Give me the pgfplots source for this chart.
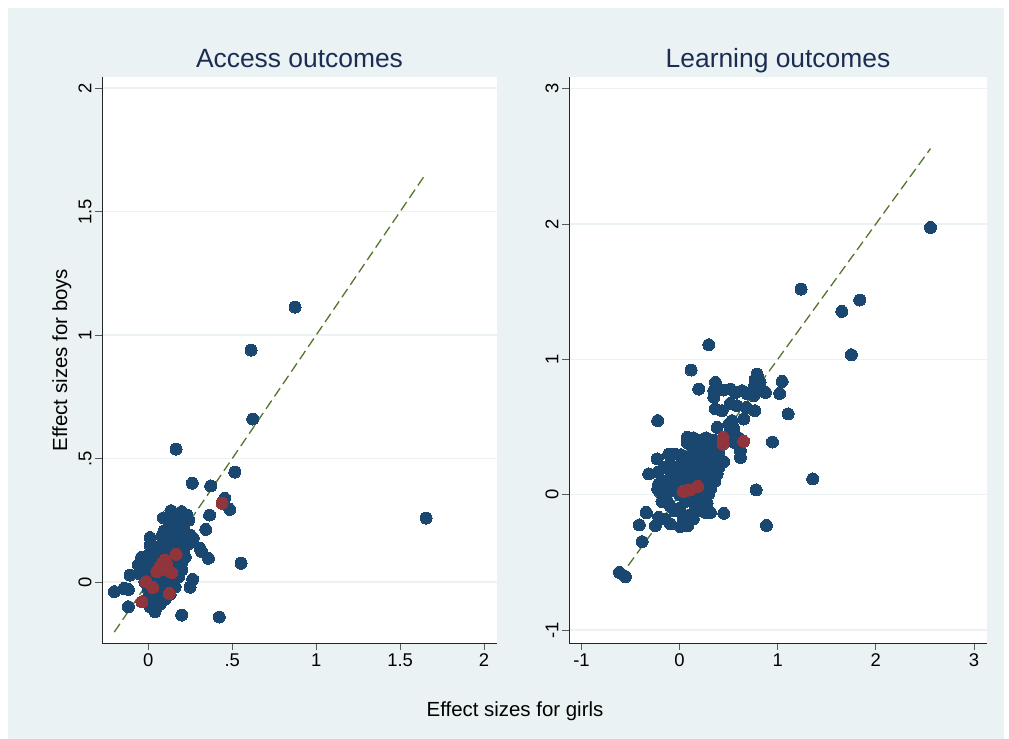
\documentclass[border=0pt]{standalone}
\usepackage{pgfplots}
\pgfplotsset{compat=1.18}
\usepackage{fontspec}
\setmainfont{Liberation Sans}
\definecolor{bg}{RGB}{234,242,243}
\definecolor{snavy}{RGB}{26,71,111}
\definecolor{smaroon}{RGB}{144,53,59}
\definecolor{sgreen}{RGB}{85,117,47}
\definecolor{tnavy}{RGB}{28,45,85}

\pgfplotstableread{
x y
0.874 1.113
0.612 0.939
0.622 0.660
0.165 0.538
0.515 0.445
0.262 0.400
0.372 0.389
0.455 0.339
0.485 0.294
0.365 0.271
1.655 0.259
0.342 0.213
0.552 0.076
0.358 0.096
0.318 0.123
0.308 0.136
0.264 0.011
0.249 -0.021
0.423 -0.142
0.199 -0.134
0.040 -0.120
0.030 -0.086
-0.119 -0.100
-0.203 -0.039
-0.145 -0.026
-0.119 -0.030
-0.109 0.028
-0.049 0.032
0.135 0.289
0.199 0.285
0.229 0.271
0.149 0.251
0.179 0.238
0.159 0.224
0.139 0.231
0.189 0.238
0.089 0.197
0.119 0.204
0.169 0.197
0.199 0.190
0.249 0.190
0.268 0.177
0.238 0.154
0.209 0.197
0.129 0.190
0.080 0.186
0.094 0.206
0.010 0.150
0.020 0.130
0.040 0.143
-0.010 0.089
0.000 0.062
0.000 0.109
-0.03 0.05
-0.02 0.00
0.00 -0.03
0.02 0.02
0.03 0.08
0.05 0.11
0.06 0.14
0.07 0.04
0.08 0.12
0.10 0.15
0.11 0.10
0.12 0.06
0.13 0.13
0.14 0.17
0.15 0.08
0.16 0.14
0.17 0.05
0.18 0.11
0.19 0.16
0.20 0.08
0.21 0.13
0.22 0.10
0.05 -0.02
0.06 -0.06
0.08 -0.04
0.10 -0.01
0.02 -0.06
0.04 0.03
0.09 0.02
0.11 0.04
0.14 0.01
0.16 -0.02
0.07 -0.09
0.10 -0.07
-0.04 0.10
-0.06 0.07
0.01 0.18
0.03 0.12
0.12 0.22
0.17 0.27
0.21 0.22
0.24 0.25
0.09 0.26
0.199 0.049
0.18 0.02
0.13 -0.05
-0.01 -0.07
0.01 -0.10
}\accessnavy

\pgfplotstableread{
x y
0.439 0.319
0.165 0.112
0.089 0.082
0.070 0.062
0.050 0.042
0.080 0.049
0.139 0.038
0.100 0.089
0.110 0.070
-0.014 0.001
0.026 -0.022
0.125 -0.046
-0.039 -0.080
}\accessmaroon

\pgfplotstableread{
x y
2.557 1.974
1.238 1.519
1.836 1.438
1.653 1.354
1.751 1.034
1.045 0.837
1.020 0.748
1.106 0.596
0.946 0.389
1.357 0.116
0.780 0.035
0.885 -0.227
0.297 1.108
0.117 0.921
0.195 0.780
-0.223 0.547
-0.614 -0.574
-0.552 -0.606
-0.382 -0.347
-0.410 -0.224
-0.342 -0.131
0.365 0.829
0.348 0.768
0.348 0.719
0.450 0.773
0.518 0.780
0.569 0.756
0.637 0.768
0.688 0.744
0.755 0.731
0.790 0.891
0.773 0.854
0.824 0.768
0.875 0.756
0.800 0.860
0.820 0.830
0.760 0.800
0.365 0.633
0.433 0.620
0.518 0.674
0.586 0.657
0.681 0.645
0.766 0.620
0.535 0.547
0.653 0.559
0.552 0.485
0.518 0.485
0.382 0.497
0.620 0.325
0.620 0.275
0.450 0.244
0.382 0.153
0.500 0.520
0.480 0.430
0.520 0.400
0.570 0.380
0.600 0.420
0.076 0.423
0.076 0.386
0.087 0.379
0.246 0.374
0.20 0.33
0.25 0.30
0.30 0.35
0.33 0.28
0.35 0.40
0.40 0.32
0.42 0.40
0.38 0.25
0.30 0.22
0.27 0.42
-0.111 0.300
0.008 0.288
0.015 0.295
-0.229 0.264
-0.315 0.153
-0.223 0.165
-0.213 0.079
-0.223 0.042
-0.128 -0.044
-0.094 0.227
0.263 -0.131
0.314 -0.131
0.450 -0.138
0.297 0.005
0.280 -0.064
-0.213 -0.168
-0.145 -0.180
-0.094 -0.216
0.008 -0.236
0.083 -0.229
-0.247 -0.229
-0.338 -0.135
-0.15 0.10
-0.12 0.02
-0.10 -0.08
-0.08 0.15
-0.06 0.05
-0.05 -0.12
-0.03 0.20
-0.02 0.10
0.00 0.00
0.00 -0.10
0.02 0.15
0.03 0.25
0.05 0.08
0.06 -0.05
0.08 0.18
0.10 0.12
0.10 -0.15
0.12 0.00
0.13 0.22
0.15 0.08
0.16 -0.08
0.18 0.16
0.20 0.05
0.20 0.26
0.22 -0.03
0.24 0.12
0.25 0.20
0.28 0.08
0.30 0.15
0.32 0.05
0.35 0.18
0.36 0.10
0.40 0.20
-0.18 -0.05
-0.20 0.02
-0.16 0.20
0.04 -0.18
0.14 -0.18
0.18 -0.12
-0.05 0.30
0.12 0.30
0.17 0.36
0.22 0.40
0.14 0.42
}\learnnavy

\pgfplotstableread{
x y
0.443 0.423
0.443 0.386
0.443 0.374
0.653 0.394
0.036 0.024
0.103 0.035
0.185 0.061
0.070 0.030
}\learnmaroon

\pgfplotsset{stataaxis/.style={
  scale only axis, anchor=south west,
  axis x line*=bottom, axis y line*=left,
  axis line style={black!85, line width=0.9bp},
  axis background/.style={fill=white},
  tick align=outside, major tick length=7bp,
  major tick style={black!65, line width=0.9bp},
  ymajorgrids, major grid style={bg, line width=1.3bp},
  ticklabel style={font=\fontsize{18.5}{18.5}\selectfont},
  yticklabel style={rotate=90, anchor=south},
  /pgf/number format/assume math mode=true,
  clip=false,
}}

\begin{document}
\begin{tikzpicture}[x=1bp,y=1bp]
\useasboundingbox (0,0) rectangle (1009,739);
\fill[white] (0,0) rectangle (1009,739);
\fill[bg] (8,0) rectangle (1004,731);

\begin{axis}[stataaxis, at={(102bp,96bp)}, width=395bp, height=566bp,
  xmin=-0.276, xmax=2.077, ymin=-0.247, ymax=2.045,
  xtick={0,0.5,1,1.5,2}, xticklabels={0,.5,1,1.5,2},
  ytick={0,0.5,1,1.5,2}, yticklabels={0,.5,1,1.5,2}]
  \addplot[only marks, mark=*, mark size=6bp, draw=snavy, fill=snavy, line width=0pt] table {\accessnavy};
  \addplot[only marks, mark=*, mark size=6bp, draw=smaroon, fill=smaroon, line width=0pt] table {\accessmaroon};
  \addplot[sgreen, line width=1.3bp, dash pattern=on 10bp off 5bp] coordinates {(-0.203,-0.203) (1.655,1.655)};
\end{axis}

\begin{axis}[stataaxis, at={(569bp,96bp)}, width=418bp, height=566bp,
  xmin=-1.127, xmax=3.133, ymin=-1.096, ymax=3.086,
  xtick={-1,0,1,2,3}, xticklabels={-1,0,1,2,3},
  ytick={-1,0,1,2,3}, yticklabels={-1,0,1,2,3}]
  \addplot[only marks, mark=*, mark size=6bp, draw=snavy, fill=snavy, line width=0pt] table {\learnnavy};
  \addplot[only marks, mark=*, mark size=6bp, draw=smaroon, fill=smaroon, line width=0pt] table {\learnmaroon};
  \addplot[sgreen, line width=1.3bp, dash pattern=on 10bp off 5bp] coordinates {(-0.614,-0.614) (2.557,2.557)};
\end{axis}

\node[anchor=base, font=\fontsize{26.5}{26.5}\selectfont, text=tnavy] at (299.5,671) {Access outcomes};
\node[anchor=base, font=\fontsize{26.5}{26.5}\selectfont, text=tnavy] at (778,671) {Learning outcomes};
\node[anchor=base, rotate=90, font=\fontsize{20.5}{20.5}\selectfont] at (67,379) {Effect sizes for boys};
\node[anchor=base, font=\fontsize{20.5}{20.5}\selectfont] at (515,22) {Effect sizes for girls};
\end{tikzpicture}
\end{document}
